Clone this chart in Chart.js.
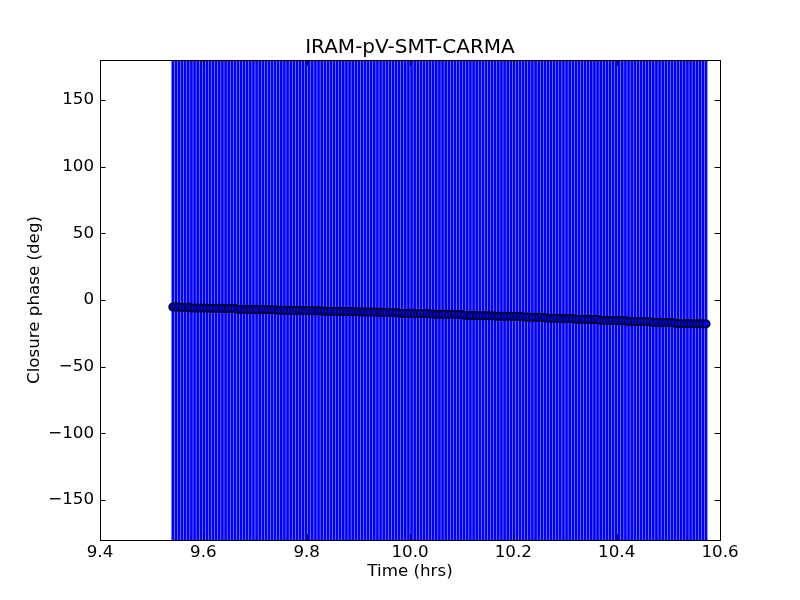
<!DOCTYPE html>
<html>
<head>
<meta charset="utf-8">
<script src="https://cdn.jsdelivr.net/npm/chart.js@4.4.0/dist/chart.umd.min.js"></script>
<style>
  html, body { margin: 0; background: #fff; }
  #wrap { width: 800px; height: 600px; }
</style>
</head>
<body>
<div id="wrap"><canvas id="cp"></canvas></div>
<script>
// Observation times (hrs)
const times = [
  9.541, 9.547, 9.553, 9.559, 9.565, 9.571, 9.577, 9.583, 9.589, 9.595,
  9.601, 9.607, 9.613, 9.619, 9.625, 9.631, 9.637, 9.643, 9.649, 9.655,
  9.661, 9.667, 9.673, 9.679, 9.685, 9.691, 9.697, 9.703, 9.709, 9.715,
  9.721, 9.727, 9.733, 9.739, 9.745, 9.751, 9.757, 9.763, 9.769, 9.775,
  9.781, 9.787, 9.793, 9.799, 9.805, 9.811, 9.817, 9.823, 9.829, 9.835,
  9.841, 9.847, 9.853, 9.859, 9.865, 9.871, 9.877, 9.883, 9.889, 9.895,
  9.901, 9.907, 9.913, 9.919, 9.925, 9.931, 9.937, 9.943, 9.949, 9.955,
  9.961, 9.967, 9.973, 9.979, 9.985, 9.991, 9.997, 10.003, 10.009, 10.015,
  10.021, 10.027, 10.033, 10.039, 10.045, 10.051, 10.057, 10.063, 10.069, 10.075,
  10.081, 10.087, 10.093, 10.099, 10.105, 10.111, 10.117, 10.123, 10.129, 10.135,
  10.141, 10.147, 10.153, 10.159, 10.165, 10.171, 10.177, 10.183, 10.189, 10.195,
  10.201, 10.207, 10.213, 10.219, 10.225, 10.231, 10.237, 10.243, 10.249, 10.255,
  10.261, 10.267, 10.273, 10.279, 10.285, 10.291, 10.297, 10.303, 10.309, 10.315,
  10.321, 10.327, 10.333, 10.339, 10.345, 10.351, 10.357, 10.363, 10.369, 10.375,
  10.381, 10.387, 10.393, 10.399, 10.405, 10.411, 10.417, 10.423, 10.429, 10.435,
  10.441, 10.447, 10.453, 10.459, 10.465, 10.471, 10.477, 10.483, 10.489, 10.495,
  10.501, 10.507, 10.513, 10.519, 10.525, 10.531, 10.537, 10.543, 10.549, 10.555,
  10.561, 10.567, 10.573
];

// Closure phase (deg), one line per scan
const phase = [
  -5.2, -5.3, -5.3, -5.4, -5.4, -5.5,
  -6.0, -6.0, -6.1, -6.1, -6.1, -6.2, -6.2, -6.2, -6.3, -6.3, -6.3, -6.4, -6.4, -6.4, -6.5,
  -6.9, -6.9, -7.0, -7.0, -7.0, -7.1, -7.1, -7.1, -7.2, -7.2, -7.2, -7.3, -7.3,
  -7.7, -7.7, -7.8, -7.8, -7.8, -7.9, -7.9, -7.9, -8.0, -8.0, -8.0, -8.1, -8.1, -8.1, -8.2,
  -8.4, -8.4, -8.5, -8.5, -8.5, -8.6, -8.6, -8.6, -8.7, -8.7, -8.7, -8.8,
  -9.0, -9.0, -9.1, -9.1, -9.1, -9.2, -9.2, -9.3, -9.3, -9.3, -9.4, -9.4,
  -9.9, -9.9, -10.0, -10.0, -10.0, -10.1, -10.1, -10.1, -10.2, -10.2,
  -10.6, -10.6, -10.7, -10.7, -10.7, -10.8, -10.8, -10.8, -10.9, -10.9, -10.9,
  -11.5, -11.5, -11.6, -11.6, -11.6, -11.7, -11.7, -11.7, -11.8, -11.8,
  -12.2, -12.2, -12.3, -12.3, -12.3, -12.4, -12.4, -12.4, -12.5,
  -12.8, -12.8, -12.9, -12.9, -12.9, -13.0, -13.0, -13.1,
  -13.7, -13.7, -13.8, -13.8, -13.8, -13.9, -13.9, -13.9, -14.0,
  -14.4, -14.4, -14.5, -14.5, -14.5, -14.6, -14.6, -14.7,
  -15.3, -15.3, -15.4, -15.4, -15.4, -15.5, -15.5, -15.5, -15.6,
  -16.1, -16.1, -16.2, -16.2, -16.2, -16.3, -16.3, -16.4,
  -16.9, -16.9, -17.0, -17.0, -17.0, -17.1, -17.1, -17.2,
  -17.6, -17.6, -17.7, -17.7, -17.7, -17.8, -17.8, -17.8, -17.9, -17.9
];

// error is larger than the whole axis range, bars get clipped
const phaseErr = 360;

const xTicks = [9.4, 9.6, 9.8, 10.0, 10.2, 10.4, 10.6];
const yTicks = [-150, -100, -50, 0, 50, 100, 150];
const chartTitle = 'IRAM-pV-SMT-CARMA';

const FONT = 'DejaVu Sans';
const fnt = size => ({ family: FONT, size: size, weight: 'normal' });

// vertical error bars behind the markers
const errorBars = {
  id: 'errorBars',
  beforeDatasetsDraw(chart) {
    const { ctx, chartArea: a } = chart;
    const xs = chart.scales.x, ys = chart.scales.y;
    ctx.save();
    ctx.beginPath();
    ctx.rect(a.left, a.top, a.right - a.left, a.bottom - a.top);
    ctx.clip();
    ctx.strokeStyle = '#0000ff';
    ctx.lineWidth = 2.7;
    ctx.beginPath();
    times.forEach((t, i) => {
      const x = xs.getPixelForValue(t);
      ctx.moveTo(x, ys.getPixelForValue(phase[i] + phaseErr));
      ctx.lineTo(x, ys.getPixelForValue(phase[i] - phaseErr));
    });
    ctx.stroke();
    ctx.restore();
  }
};

// matplotlib style box with inward ticks on all sides, title over the axes
const frame = {
  id: 'frame',
  afterDraw(chart) {
    const { ctx, chartArea: a } = chart;
    const xs = chart.scales.x, ys = chart.scales.y;
    const len = 5.5;
    ctx.save();
    ctx.strokeStyle = '#000';
    ctx.lineWidth = 1;
    ctx.beginPath();
    xTicks.forEach(v => {
      const x = Math.round(xs.getPixelForValue(v)) + 0.5;
      ctx.moveTo(x, a.bottom); ctx.lineTo(x, a.bottom - len);
      ctx.moveTo(x, a.top); ctx.lineTo(x, a.top + len);
    });
    yTicks.forEach(v => {
      const y = Math.round(ys.getPixelForValue(v)) + 0.5;
      ctx.moveTo(a.left, y); ctx.lineTo(a.left + len, y);
      ctx.moveTo(a.right, y); ctx.lineTo(a.right - len, y);
    });
    ctx.stroke();
    ctx.strokeRect(Math.round(a.left) + 0.5, Math.round(a.top) + 0.5,
      Math.round(a.right - a.left), Math.round(a.bottom - a.top));

    ctx.fillStyle = '#000';
    ctx.font = '20px "' + FONT + '"';
    ctx.textAlign = 'center';
    ctx.textBaseline = 'alphabetic';
    ctx.fillText(chartTitle, (a.left + a.right) / 2, a.top - 7);
    ctx.restore();
  }
};

new Chart(document.getElementById('cp'), {
  type: 'scatter',
  data: {
    datasets: [{
      data: times.map((t, i) => ({ x: t, y: phase[i] })),
      backgroundColor: '#0000ff',
      borderColor: '#000020',
      borderWidth: 1.5,
      pointRadius: 3.8
    }]
  },
  options: {
    responsive: true,
    maintainAspectRatio: false,
    animation: false,
    devicePixelRatio: 1,
    layout: { padding: { left: 0, right: 80, top: 60, bottom: 0 } },
    plugins: {
      legend: { display: false },
      tooltip: { enabled: false },
      title: { display: false }
    },
    scales: {
      x: {
        type: 'linear',
        min: 9.4,
        max: 10.6,
        afterBuildTicks: s => { s.ticks = xTicks.map(v => ({ value: v })); },
        afterFit: s => { s.height = 60; },
        grid: { display: false, drawTicks: false },
        border: { display: false },
        ticks: {
          color: '#000',
          font: fnt(16.7),
          padding: 3,
          maxRotation: 0,
          autoSkip: false,
          callback: v => v.toFixed(1)
        },
        title: {
          display: true,
          text: 'Time (hrs)',
          color: '#000',
          font: fnt(16.7),
          padding: { top: 0, bottom: 18 }
        }
      },
      y: {
        type: 'linear',
        min: -180,
        max: 180,
        afterBuildTicks: s => { s.ticks = yTicks.map(v => ({ value: v })); },
        afterFit: s => { s.width = 100; },
        grid: { display: false, drawTicks: false },
        border: { display: false },
        ticks: {
          color: '#000',
          font: fnt(16.7),
          padding: 6,
          autoSkip: false,
          callback: v => (v < 0 ? '\u2212' : '') + Math.abs(v)
        },
        title: {
          display: true,
          text: 'Closure phase (deg)',
          color: '#000',
          font: fnt(16.7),
          padding: { top: 25, bottom: 0 }
        }
      }
    }
  },
  plugins: [errorBars, frame]
});
</script>
</body>
</html>
